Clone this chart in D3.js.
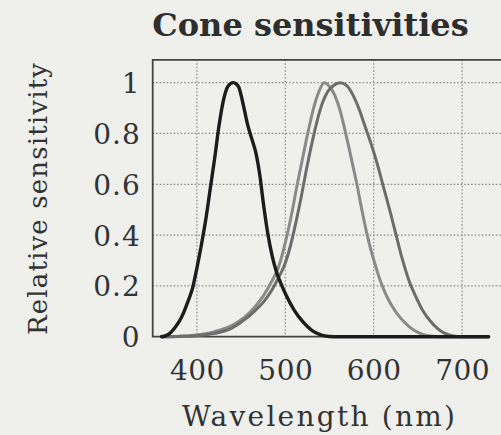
<!DOCTYPE html>
<html>
<head>
<meta charset="utf-8">
<script src="https://cdn.jsdelivr.net/npm/d3@7"></script>
<style>
  html, body { margin: 0; padding: 0; background: #efefec; }
  svg { display: block; }
</style>
</head>
<body>
<div id="chart"></div>
<script>
// cone sensitivity curves, [wavelength nm, relative sensitivity]
const sCone = [
  [360, 0], [365, 0.004], [370, 0.015], [375, 0.035], [380, 0.06], [385, 0.095],
  [390, 0.14], [395, 0.19], [400, 0.27], [405, 0.36], [410, 0.46], [415, 0.58],
  [420, 0.70], [425, 0.83], [430, 0.93], [435, 0.985], [441, 1.0], [447, 0.985],
  [452, 0.92], [457, 0.84], [462, 0.78], [467, 0.72], [471, 0.64], [475, 0.53],
  [480, 0.41], [485, 0.32], [490, 0.255], [495, 0.21], [500, 0.17], [510, 0.105],
  [520, 0.058], [530, 0.025], [540, 0.007], [550, 0.001], [560, 0], [730, 0]
];
const mCone = [
  [360, 0], [380, 0.002], [400, 0.007], [420, 0.02], [440, 0.045], [455, 0.08],
  [465, 0.115], [475, 0.16], [485, 0.22], [492, 0.27], [500, 0.37], [507, 0.48],
  [513, 0.59], [520, 0.71], [526, 0.81], [532, 0.9], [538, 0.965], [544, 1.0],
  [550, 0.985], [556, 0.95], [562, 0.89], [567, 0.82], [571, 0.76], [576, 0.68],
  [581, 0.6], [586, 0.51], [592, 0.41], [597, 0.34], [602, 0.28], [608, 0.215],
  [614, 0.165], [620, 0.125], [630, 0.075], [640, 0.04], [650, 0.017], [660, 0.005],
  [670, 0.001], [680, 0], [730, 0]
];
const lCone = [
  [360, 0], [380, 0.001], [400, 0.004], [420, 0.013], [440, 0.035], [455, 0.07],
  [465, 0.1], [475, 0.135], [485, 0.185], [492, 0.23], [500, 0.29], [506, 0.36],
  [512, 0.45], [518, 0.55], [524, 0.66], [530, 0.76], [536, 0.85], [542, 0.92],
  [548, 0.965], [555, 0.99], [562, 1.0], [569, 0.99], [576, 0.955], [583, 0.9],
  [590, 0.83], [597, 0.76], [604, 0.68], [611, 0.59], [618, 0.5], [625, 0.405],
  [632, 0.31], [640, 0.22], [648, 0.155], [656, 0.1], [664, 0.062], [672, 0.033],
  [680, 0.014], [690, 0.003], [700, 0], [730, 0]
];

const xTicks = [400, 500, 600, 700];
const yTicks = [0, 0.2, 0.4, 0.6, 0.8, 1];
const xDomain = [350, 750];
const yDomain = [0, 1.09];

const sizes = {
  width: 501, height: 435,
  margin: {left: 152.7, top: 59.8, right: -5.3, bottom: 98.3}
};

const FONT = "'DejaVu Serif', 'Liberation Serif', serif";
const INK = "#333";

const svg = d3.select("#chart").append("svg")
  .attr("width", sizes.width)
  .attr("height", sizes.height)
  .attr("viewBox", `0 0 ${sizes.width} ${sizes.height}`);

const x = d3.scaleLinear()
  .domain(xDomain)
  .range([sizes.margin.left, sizes.width - sizes.margin.right]);

const y = d3.scaleLinear()
  .domain(yDomain)
  .range([sizes.height - sizes.margin.bottom, sizes.margin.top]);

const y0 = y(0), x0 = x(xDomain[0]), x1 = x(xDomain[1]), yTop = y(yDomain[1]);

// dotted grid
svg.append("g")
  .selectAll("line")
  .data(xTicks)
  .join("line")
    .attr("x1", (d) => x(d)).attr("x2", (d) => x(d))
    .attr("y1", yTop).attr("y2", y0)
    .style("stroke", "#888")
    .style("stroke-width", 1.2)
    .style("stroke-dasharray", "1.5 2");

svg.append("g")
  .selectAll("line")
  .data(yTicks.filter((d) => d > 0))
  .join("line")
    .attr("x1", x0).attr("x2", x1)
    .attr("y1", (d) => y(d)).attr("y2", (d) => y(d))
    .style("stroke", "#888")
    .style("stroke-width", 1.2)
    .style("stroke-dasharray", "1.5 2");

// frame: top and left, bottom only as far as the curves run
svg.append("path")
  .attr("d", `M ${x1} ${yTop} L ${x0} ${yTop} L ${x0} ${y0} L ${x(730)} ${y0}`)
  .style("fill", "none")
  .style("stroke", "#444")
  .style("stroke-width", 1.8);

// curves
const line = d3.line()
  .curve(d3.curveMonotoneX)
  .x((d) => x(d[0]))
  .y((d) => y(d[1]));

const curves = [
  {data: mCone, color: "#8a8a8a", width: 3},
  {data: lCone, color: "#6c6c6c", width: 3},
  {data: sCone, color: "#1c1c1c", width: 3.4}
];

svg.append("g")
  .selectAll("path")
  .data(curves)
  .join("path")
    .attr("d", (d) => line(d.data))
    .style("fill", "none")
    .style("stroke", (d) => d.color)
    .style("stroke-width", (d) => d.width)
    .style("stroke-linejoin", "round")
    .style("stroke-linecap", "round");

// axes (labels only, lines drawn above)
const xAxis = svg.append("g")
  .attr("transform", `translate(0,${y0})`)
  .call(d3.axisBottom(x).tickValues(xTicks).tickSize(0).tickPadding(23));
xAxis.select(".domain").remove();
xAxis.selectAll("text")
  .attr("dy", "0.71em")
  .style("font-family", FONT)
  .style("font-size", "28px")
  .style("letter-spacing", "0.5px")
  .style("fill", INK);

const yAxis = svg.append("g")
  .attr("transform", `translate(${x0},0)`)
  .call(d3.axisLeft(y).tickValues(yTicks).tickFormat(d3.format("")).tickSize(0).tickPadding(12));
yAxis.select(".domain").remove();
yAxis.selectAll("text")
  .attr("dy", "0.36em")
  .style("font-family", FONT)
  .style("font-size", "28px")
  .style("letter-spacing", "1px")
  .style("fill", INK);

// title and axis titles
svg.append("text")
  .text("Cone sensitivities")
  .attr("x", 310.5)
  .attr("y", 36)
  .style("text-anchor", "middle")
  .style("font-family", FONT)
  .style("font-weight", "bold")
  .style("font-size", "32px")
  .style("fill", "#2e2e2e");

svg.append("text")
  .text("Wavelength (nm)")
  .attr("x", 182)
  .attr("y", 426)
  .attr("textLength", 273)
  .style("font-family", FONT)
  .style("font-size", "28px")
  .style("fill", INK);

svg.append("text")
  .text("Relative sensitivity")
  .attr("transform", "translate(47,335) rotate(-90)")
  .attr("textLength", 272)
  .style("font-family", FONT)
  .style("font-size", "26px")
  .style("fill", INK);
</script>
</body>
</html>
